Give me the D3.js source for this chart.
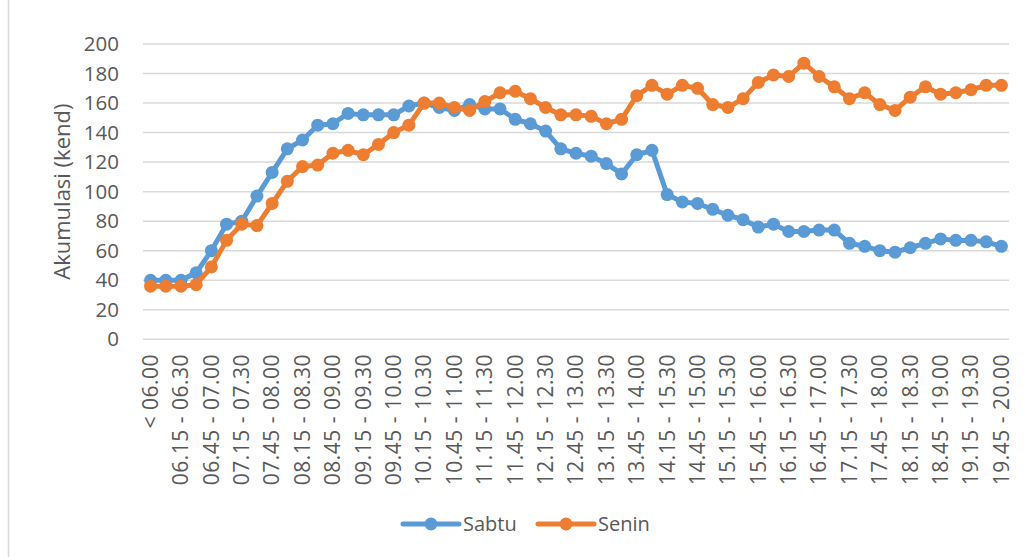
<!DOCTYPE html>
<html>
<head>
<meta charset="utf-8">
<script src="https://cdn.jsdelivr.net/npm/d3@7"></script>
<style>
  body { margin: 0; background: #fff; }
  text { font-family: "Open Sans", sans-serif; fill: #595959; }
</style>
</head>
<body>
<div id="container"></div>
<script>
// Constants and globals
const width = 1024,
  height = 557,
  margin = { top: 44, bottom: 218, left: 143, right: 15 },
  radius = 6.5

// data
const categories = ["< 06.00", "06.00 - 06.15", "06.15 - 06.30", "06.30 - 06.45", "06.45 - 07.00",
  "07.00 - 07.15", "07.15 - 07.30", "07.30 - 07.45", "07.45 - 08.00", "08.00 - 08.15", "08.15 - 08.30",
  "08.30 - 08.45", "08.45 - 09.00", "09.00 - 09.15", "09.15 - 09.30", "09.30 - 09.45", "09.45 - 10.00",
  "10.00 - 10.15", "10.15 - 10.30", "10.30 - 10.45", "10.45 - 11.00", "11.00 - 11.15", "11.15 - 11.30",
  "11.30 - 11.45", "11.45 - 12.00", "12.00 - 12.15", "12.15 - 12.30", "12.30 - 12.45", "12.45 - 13.00",
  "13.00 - 13.15", "13.15 - 13.30", "13.30 - 13.45", "13.45 - 14.00", "14.00 - 14.15", "14.15 - 15.30",
  "14.30 - 14.45", "14.45 - 15.00", "15.00 - 15.15", "15.15 - 15.30", "15.30 - 15.45", "15.45 - 16.00",
  "16.00 - 16.15", "16.15 - 16.30", "16.30 - 16.45", "16.45 - 17.00", "17.00 - 17.15", "17.15 - 17.30",
  "17.30 - 17.45", "17.45 - 18.00", "18.00 - 18.15", "18.15 - 18.30", "18.30 - 18.45", "18.45 - 19.00",
  "19.00 - 19.15", "19.15 - 19.30", "19.30 - 19.45", "19.45 - 20.00"]

const sabtu = [40, 40, 40, 45, 60, 78, 80, 97, 113, 129, 135, 145, 146, 153, 152, 152, 152, 158, 160,
  157, 155, 159, 156, 156, 149, 146, 141, 129, 126, 124, 119, 112, 125, 128, 98, 93, 92, 88, 84,
  81, 76, 78, 73, 73, 74, 74, 65, 63, 60, 59, 62, 65, 68, 67, 67, 66, 63]

const senin = [36, 36, 36, 37, 49, 67, 78, 77, 92, 107, 117, 118, 126, 128, 125, 132, 140, 145, 160,
  160, 157, 155, 161, 167, 168, 163, 157, 152, 152, 151, 146, 149, 165, 172, 166, 172, 170, 159, 157,
  163, 174, 179, 178, 187, 178, 171, 163, 167, 159, 155, 164, 171, 166, 167, 169, 172, 172]

const yTicks = [0, 20, 40, 60, 80, 100, 120, 140, 160, 180, 200]

const series = [
  { name: "Sabtu", values: sabtu, color: "#5B9BD5" },
  { name: "Senin", values: senin, color: "#ED7D31" }
]

// scales
const xScale = d3.scaleBand()
  .domain(categories)
  .range([margin.left, width - margin.right])

const yScale = d3.scaleLinear()
  .domain([0, 200])
  .range([height - margin.bottom + 0.3, margin.top])

const cx = d => xScale(d) + xScale.bandwidth() / 2

// svg
const svg = d3.select("#container")
  .append("svg")
  .attr("width", width)
  .attr("height", height)

// chart border (left edge only visible)
svg.append("line")
  .attr("x1", 8.5).attr("x2", 8.5)
  .attr("y1", 0).attr("y2", height)
  .attr("stroke", "#d9d9d9")
  .attr("stroke-width", 1.5)

// gridlines
svg.append("g")
  .selectAll("line")
  .data(yTicks)
  .join("line")
  .attr("x1", margin.left)
  .attr("x2", width - margin.right)
  .attr("y1", d => yScale(d))
  .attr("y2", d => yScale(d))
  .attr("stroke", "#d9d9d9")
  .attr("stroke-width", 1.5)

// y axis
const yAxis = d3.axisLeft(yScale).tickValues(yTicks).tickSize(0).tickPadding(0)
const yG = svg.append("g")
  .attr("transform", `translate(119,0)`)
  .call(yAxis)
yG.select(".domain").remove()
yG.selectAll("text")
  .attr("font-size", 20.5)
  .attr("font-family", "Open Sans, sans-serif")
  .attr("fill", "#595959")

// x axis labels (every second category)
const xAxis = d3.axisBottom(xScale)
  .tickValues(categories.filter((d, i) => i % 2 === 0))
  .tickSize(0)
const xG = svg.append("g")
  .attr("transform", `translate(0,${height - margin.bottom})`)
  .call(xAxis)
xG.select(".domain").remove()
xG.selectAll("text")
  .attr("font-size", 21)
  .attr("letter-spacing", "0.5px")
  .attr("font-family", "Open Sans, sans-serif")
  .attr("fill", "#595959")
  .attr("text-anchor", "end")
  .attr("transform", "rotate(-90)")
  .attr("x", -15)
  .attr("y", 0)
  .attr("dy", "0.35em")

// y title
svg.append("text")
  .attr("transform", `translate(70,${(yScale(0) + yScale(200)) / 2}) rotate(-90)`)
  .attr("text-anchor", "middle")
  .attr("font-size", 22)
  .text("Akumulasi (kend)")

// lines and dots
const line = d3.line()
  .x((d, i) => cx(categories[i]))
  .y(d => yScale(d))

series.forEach(s => {
  svg.append("path")
    .datum(s.values)
    .attr("fill", "none")
    .attr("stroke", s.color)
    .attr("stroke-width", 5)
    .attr("stroke-linejoin", "round")
    .attr("d", line)

  svg.append("g")
    .selectAll("circle")
    .data(s.values)
    .join("circle")
    .attr("cx", (d, i) => cx(categories[i]))
    .attr("cy", d => yScale(d))
    .attr("r", radius)
    .attr("fill", s.color)
})

// legend
const legendX = [403, 538]
const legend = svg.append("g")
  .selectAll("g")
  .data(series)
  .join("g")
  .attr("transform", (d, i) => `translate(${legendX[i]},524)`)

legend.append("line")
  .attr("x1", 0).attr("x2", 56)
  .attr("stroke", d => d.color)
  .attr("stroke-width", 5)
  .attr("stroke-linecap", "round")
legend.append("circle")
  .attr("cx", 28)
  .attr("r", radius)
  .attr("fill", d => d.color)
legend.append("text")
  .attr("x", 60)
  .attr("dy", "0.35em")
  .attr("font-size", 20)
  .text(d => d.name)
</script>
</body>
</html>
